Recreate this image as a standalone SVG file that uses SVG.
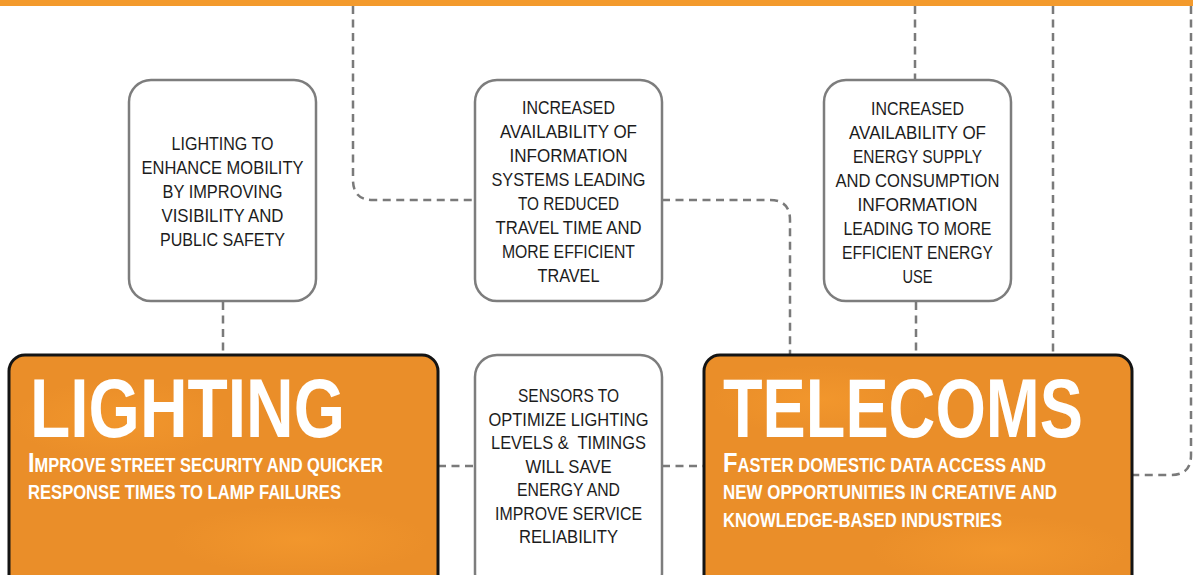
<svg xmlns="http://www.w3.org/2000/svg" width="1193" height="575" viewBox="0 0 1193 575">
<style>
.box{fill:#fff;stroke:#7d7d7d;stroke-width:2.5}
.obox{fill:#EA8E29;stroke:#141414;stroke-width:3}
.t{font-family:"Liberation Sans",Arial,sans-serif;font-size:17.5px;fill:#1c1c1c;text-anchor:middle}
.big{font-family:"Liberation Sans",Arial,sans-serif;font-weight:bold;font-size:83px;fill:#fff}
.sub{font-family:"Liberation Sans",Arial,sans-serif;font-weight:bold;font-size:19.5px;fill:#fff}
.cap{font-size:28px}
.con{fill:none;stroke:#7a7a7a;stroke-width:2.5;stroke-dasharray:8 5.5}
</style>
<defs>
<radialGradient id="blob" cx="50%" cy="50%" r="50%">
<stop offset="0" stop-color="#F59A2E" stop-opacity="0.7"/>
<stop offset="1" stop-color="#F59A2E" stop-opacity="0"/>
</radialGradient>
</defs>
<rect x="0" y="0" width="1193" height="6" fill="#F39A2C"/>
<g id="connectors">
<path class="con" d="M223,302 V355"/>
<path class="con" d="M353,6 V180 Q353,200 373,200 H475"/>
<path class="con" d="M662,200 H770 Q790,200 790,220 V355"/>
<path class="con" d="M915,6 V80"/>
<path class="con" d="M916,302 V355"/>
<path class="con" d="M1053,6 V355"/>
<path class="con" d="M1191,6 V455 Q1191,475 1171,475 H1132"/>
<path class="con" d="M438,466 H475"/>
<path class="con" d="M662,466 H704"/>
</g>
<g id="box-lighting-mobility">
<rect class="box" x="129" y="80" width="187" height="221" rx="22"/>
<text class="t" x="222.5" y="150" textLength="102" lengthAdjust="spacingAndGlyphs">LIGHTING TO</text>
<text class="t" x="222.5" y="174" textLength="162" lengthAdjust="spacingAndGlyphs">ENHANCE MOBILITY</text>
<text class="t" x="222.5" y="198" textLength="120" lengthAdjust="spacingAndGlyphs">BY IMPROVING</text>
<text class="t" x="222.5" y="222" textLength="122" lengthAdjust="spacingAndGlyphs">VISIBILITY AND</text>
<text class="t" x="222.5" y="246" textLength="125" lengthAdjust="spacingAndGlyphs">PUBLIC SAFETY</text>
</g>
<g id="box-information">
<rect class="box" x="475" y="80" width="187" height="221" rx="22"/>
<text class="t" x="568.5" y="114" textLength="93" lengthAdjust="spacingAndGlyphs">INCREASED</text>
<text class="t" x="568.5" y="138" textLength="137" lengthAdjust="spacingAndGlyphs">AVAILABILITY OF</text>
<text class="t" x="568.5" y="162" textLength="118" lengthAdjust="spacingAndGlyphs">INFORMATION</text>
<text class="t" x="568.5" y="186" textLength="154" lengthAdjust="spacingAndGlyphs">SYSTEMS LEADING</text>
<text class="t" x="568.5" y="210" textLength="101" lengthAdjust="spacingAndGlyphs">TO REDUCED</text>
<text class="t" x="568.5" y="234" textLength="146" lengthAdjust="spacingAndGlyphs">TRAVEL TIME AND</text>
<text class="t" x="568.5" y="258" textLength="133" lengthAdjust="spacingAndGlyphs">MORE EFFICIENT</text>
<text class="t" x="568.5" y="282" textLength="62" lengthAdjust="spacingAndGlyphs">TRAVEL</text>
</g>
<g id="box-energy">
<rect class="box" x="824" y="80" width="187" height="221" rx="22"/>
<text class="t" x="917.5" y="115" textLength="93" lengthAdjust="spacingAndGlyphs">INCREASED</text>
<text class="t" x="917.5" y="139" textLength="137" lengthAdjust="spacingAndGlyphs">AVAILABILITY OF</text>
<text class="t" x="917.5" y="163" textLength="129" lengthAdjust="spacingAndGlyphs">ENERGY SUPPLY</text>
<text class="t" x="917.5" y="187" textLength="164" lengthAdjust="spacingAndGlyphs">AND CONSUMPTION</text>
<text class="t" x="917.5" y="211" textLength="120" lengthAdjust="spacingAndGlyphs">INFORMATION</text>
<text class="t" x="917.5" y="235" textLength="148" lengthAdjust="spacingAndGlyphs">LEADING TO MORE</text>
<text class="t" x="917.5" y="259" textLength="151" lengthAdjust="spacingAndGlyphs">EFFICIENT ENERGY</text>
<text class="t" x="917.5" y="283" textLength="30" lengthAdjust="spacingAndGlyphs">USE</text>
</g>
<g id="box-sensors">
<rect class="box" x="475" y="355" width="187" height="240" rx="22"/>
<text class="t" x="568.5" y="402" textLength="101" lengthAdjust="spacingAndGlyphs">SENSORS TO</text>
<text class="t" x="568.5" y="426" textLength="160" lengthAdjust="spacingAndGlyphs">OPTIMIZE LIGHTING</text>
<text class="t" x="568.5" y="449" textLength="155" lengthAdjust="spacingAndGlyphs" xml:space="preserve">LEVELS &amp;  TIMINGS</text>
<text class="t" x="568.5" y="473" textLength="86" lengthAdjust="spacingAndGlyphs">WILL SAVE</text>
<text class="t" x="568.5" y="496" textLength="103" lengthAdjust="spacingAndGlyphs">ENERGY AND</text>
<text class="t" x="568.5" y="520" textLength="147" lengthAdjust="spacingAndGlyphs">IMPROVE SERVICE</text>
<text class="t" x="568.5" y="543" textLength="99" lengthAdjust="spacingAndGlyphs">RELIABILITY</text>
</g>
<g id="lighting">
<rect class="obox" x="9" y="355" width="429" height="240" rx="16"/>
<ellipse cx="120" cy="420" rx="110" ry="40" fill="url(#blob)"/>
<ellipse cx="300" cy="540" rx="130" ry="35" fill="url(#blob)"/>
<text class="big" x="30" y="437" textLength="315" lengthAdjust="spacingAndGlyphs">LIGHTING</text>
<text class="sub" x="28" y="472" textLength="355" lengthAdjust="spacingAndGlyphs"><tspan class="cap">I</tspan>MPROVE STREET SECURITY AND QUICKER</text>
<text class="sub" x="28" y="499" textLength="313" lengthAdjust="spacingAndGlyphs">RESPONSE TIMES TO LAMP FAILURES</text>
</g>
<g id="telecoms">
<rect class="obox" x="704" y="355" width="428" height="240" rx="16"/>
<ellipse cx="820" cy="400" rx="110" ry="35" fill="url(#blob)"/>
<ellipse cx="1000" cy="550" rx="130" ry="35" fill="url(#blob)"/>
<text class="big" x="723" y="437" textLength="360" lengthAdjust="spacingAndGlyphs">TELECOMS</text>
<text class="sub" x="723" y="472" textLength="323" lengthAdjust="spacingAndGlyphs"><tspan class="cap">F</tspan>ASTER DOMESTIC DATA ACCESS AND</text>
<text class="sub" x="723" y="499" textLength="334" lengthAdjust="spacingAndGlyphs">NEW OPPORTUNITIES IN CREATIVE AND</text>
<text class="sub" x="723" y="527" textLength="279" lengthAdjust="spacingAndGlyphs">KNOWLEDGE-BASED INDUSTRIES</text>
</g>
</svg>
